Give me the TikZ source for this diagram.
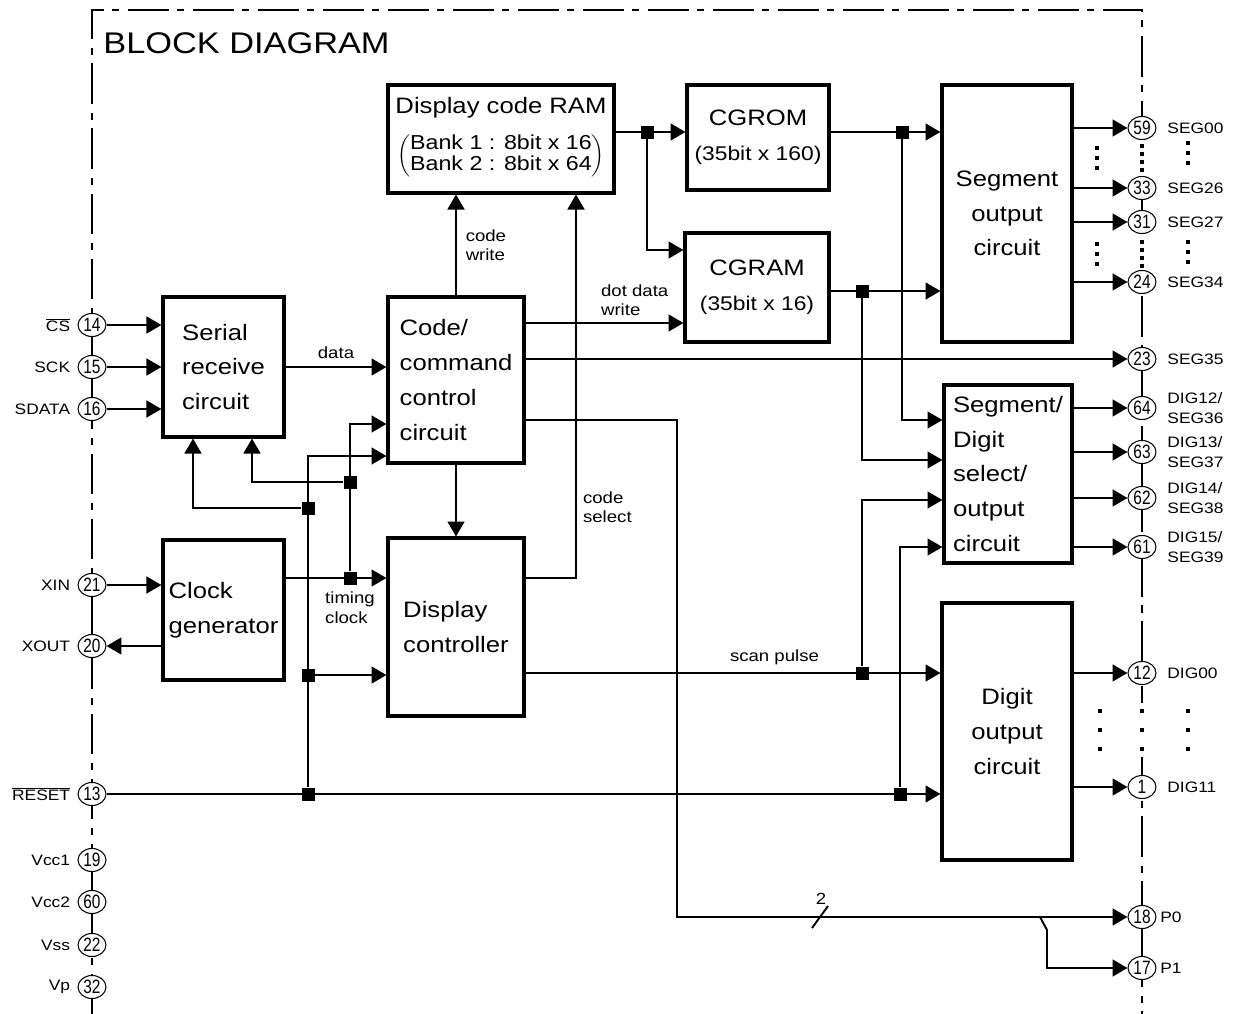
\documentclass[tikz,border=0pt]{standalone}
\usepackage{fontspec}
\setmainfont[FakeStretch=1.15]{Liberation Sans}
\newfontfamily\padfont[FakeStretch=0.8]{Liberation Sans}
\usetikzlibrary{arrows.meta,positioning,backgrounds,shapes.geometric}

\begin{document}
\begin{tikzpicture}[x=0.02cm, y=-0.02cm, >=Triangle, font=\fontsize{9}{11}\selectfont]
  \tikzset{
    sig/.style={-{Triangle[length=8.5pt, width=9.6pt]}, line width=1.1pt},
    wire/.style={line width=1.1pt},
    blk/.style={draw, line width=1.8pt, align=center, inner sep=2pt, font=\fontsize{12.7}{19.8}\selectfont},
    pad/.style={draw, ellipse, fill=white, line width=0.6pt, minimum width=0.56cm, minimum height=0.46cm, inner sep=0pt, font=\padfont\fontsize{11}{11}\selectfont},
    padtxt/.style={font=\fontsize{8.6}{11.3}\selectfont, inner sep=1pt, align=left},
    jn/.style={fill, minimum size=0.26cm, inner sep=0pt},
    note/.style={font=\fontsize{9.2}{11}\selectfont, align=left, inner sep=1pt},
    frame/.style={line width=1.1pt, dash pattern=on 23pt off 5pt on 4pt off 5pt}
  }
  \useasboundingbox (0,0) rectangle (1234,1014);

  \node[anchor=west, inner sep=0pt, font=\fontsize{17}{18}\selectfont] (title) at (103,43) {BLOCK DIAGRAM};

  % Blocks
  \node[blk, minimum width=4.52cm, minimum height=2.16cm] (ram) at (501,139) {};
  \node[inner sep=0pt, font=\fontsize{12.7}{14}\selectfont] (ramt) at (501,108) {Display code RAM};
  \node[inner sep=0pt, font=\fontsize{11.5}{12}\selectfont] (ramb) at (501,156)
    {$\left(\mbox{\begin{tabular}{@{}l@{}}Bank 1 : 8bit x 16\\Bank 2 : 8bit x 64\end{tabular}}\right)$};
  \node[blk, minimum width=2.84cm, minimum height=2.1cm] (cgrom) at (758,137.5)
    {CGROM\\{\fontsize{11.3}{12}\selectfont(35bit x 160)}};
  \node[blk, minimum width=2.88cm, minimum height=2.18cm] (cgram) at (757,287.5)
    {CGRAM\\{\fontsize{11.3}{12}\selectfont(35bit x 16)}};
  \node[blk, minimum width=2.6cm, minimum height=5.14cm] (segout) at (1007,213.5) {Segment\\output\\circuit};
  \node[blk, minimum width=2.42cm, minimum height=2.8cm, align=left] (serial) at (223.5,367) {Serial\\receive\\circuit};
  \node[blk, minimum width=2.72cm, minimum height=3.32cm, align=left] (ctrl) at (456,380) {Code/\\command\\control\\circuit};
  \node[blk, minimum width=2.42cm, minimum height=2.8cm, align=left] (clk) at (223.5,610) {Clock\\generator};
  \node[blk, minimum width=2.72cm, minimum height=3.56cm, align=left] (disp) at (456,627) {Display\\controller};
  \node[blk, minimum width=2.56cm, minimum height=3.56cm, align=left] (segdig) at (1008,474) {Segment/\\Digit\\select/\\output\\circuit};
  \node[blk, minimum width=2.6cm, minimum height=5.14cm] (digout) at (1007,731.5) {Digit\\output\\circuit};

  % Pins
  \foreach \n/\y/\t in {14/325/{$\overline{\mbox{CS}}$}, 15/367/SCK, 16/409/SDATA, 21/585/XIN, 20/646/XOUT,
      13/794/{$\overline{\mbox{RESET}}$}, 19/860/Vcc1, 60/902/Vcc2, 22/945/Vss, 32/987/Vp}
    {\node[pad] (p\n) at (92,\y) {\n};
     \node[padtxt, left=3pt of p\n] (l\n) {\t};}
  \foreach \n/\y/\t in {59/128/SEG00, 33/188/SEG26, 31/222/SEG27, 24/282/SEG34, 23/359/SEG35,
      64/408/{DIG12/\\SEG36}, 63/452/{DIG13/\\SEG37}, 62/498/{DIG14/\\SEG38}, 61/547/{DIG15/\\SEG39},
      12/673/DIG00, 1/787/DIG11}
    {\node[pad] (p\n) at (1142,\y) {\n};
     \node[padtxt, right=5pt of p\n] (l\n) {\t};}
  \foreach \n/\y/\t in {18/917/P0, 17/968/P1}
    {\node[pad] (p\n) at (1142,\y) {\n};
     \node[padtxt, right=1pt of p\n] (l\n) {\t};}

  % Junctions
  \node[jn] (j1) at (647,132) {};
  \node[jn] (j2) at (902,132) {};
  \node[jn] (j3) at (862,291) {};
  \node[jn] (j4) at (862,673) {};
  \node[jn] (j5) at (308,794) {};
  \node[jn] (j6) at (900,794) {};
  \node[jn] (j7) at (350,578) {};
  \node[jn] (j8) at (350,482) {};
  \node[jn] (j9) at (308,508) {};
  \node[jn] (j10) at (308,675) {};
  \coordinate (csel) at (576,578);
  \coordinate (pb) at (677,917);
  \coordinate (pf) at (1040,917);

  % Frame and pin lines
  \begin{scope}[on background layer]
    \draw[frame] (92,1014) -- (92,10) -- (1142,10) -- (1142,1014);
    \draw[wire] (p14) -- (p16);
    \draw[wire] (p21) -- (p20);
    \draw[wire] (p19) -- (p22);
    \draw[wire] (p33) -- (p31);
    \draw[wire] (p63) -- (p62);
    \draw[wire] (p18) -- (p17);
    \draw[white, line width=3pt] (p59) -- (p33);
    \draw[white, line width=3pt] (p31) -- (p24);
    \draw[white, line width=3pt] (1142,703) -- (1142,757);
  \end{scope}

  % Dots
  \foreach \x/\y in {1142/146, 1142/154, 1142/162, 1142/170, 1097/148, 1097/158, 1097/168, 1188/143, 1188/153, 1188/163,
      1142/242, 1142/250, 1142/258, 1142/266, 1097/244, 1097/254, 1097/264, 1188/242, 1188/252, 1188/262,
      1100/711, 1100/730, 1100/749, 1142/711, 1142/730, 1142/749, 1188/711, 1188/730, 1188/749}
    \fill (\x,\y) ++(-2,-2) rectangle ++(4,4);

  % Inputs and outputs
  \foreach \n in {14,15,16} \draw[sig] (p\n) -- (p\n -| serial.west);
  \draw[sig] (p21) -- (p21 -| clk.west);
  \draw[sig] (p20 -| clk.west) -- (p20);
  \draw[sig] (p23 -| ctrl.east) -- (p23);
  \foreach \n in {59,33,31,24} \draw[sig] (p\n -| segout.east) -- (p\n);
  \foreach \n in {64,63,62,61} \draw[sig] (p\n -| segdig.east) -- (p\n);
  \foreach \n in {12,1} \draw[sig] (p\n -| digout.east) -- (p\n);

  % Data paths
  \draw[sig] (serial.east) -- (serial.east -| ctrl.west) node[note, midway, above=3pt] (datal) {data};
  \draw[sig] (ctrl.north) -- (ctrl.north |- ram.south) node[note, midway, right=4pt] (cwl) {code\\write};
  \draw[sig] (csel -| disp.east) -- (csel) -- (csel |- ram.south);
  \node[note, anchor=west] (csl) at (581,507) {code\\select};
  \draw[sig] (ctrl.south) -- (disp.north);
  \draw[sig] (j1 -| ram.east) -- (j1 -| cgrom.west);
  \draw[sig] (j1) |- (cgram.west |- 0,250);
  \draw[sig] (ctrl.east |- 0,323) -- (cgram.west |- 0,323);
  \node[note, anchor=south west] (ddl) at (599,318) {dot data\\write};
  \draw[sig] (j2 -| cgrom.east) -- (j2 -| segout.west);
  \draw[sig] (j2) |- (segdig.west |- 0,420);
  \draw[sig] (j3 -| cgram.east) -- (j3 -| segout.west);
  \draw[sig] (j3) |- (segdig.west |- 0,460);
  \draw[sig] (j4 -| disp.east) -- (j4 -| digout.west) node[note, pos=0.6, above=3pt] (spl) {scan pulse};
  \draw[sig] (j4) |- (segdig.west |- 0,500);

  % Reset and clock
  \draw[sig] (p13) -- (p13 -| digout.west);
  \draw[sig] (j6) |- (segdig.west |- 0,547);
  \draw[sig] (j7 -| clk.east) -- (j7 -| disp.west);
  \node[note, below=3pt of j7] (tcl) {timing\\clock};
  \draw[sig] (j7) |- (ctrl.west |- 0,424);
  \draw[sig] (j8) -| (serial.south -| 252,0);
  \draw[sig] (j5) |- (ctrl.west |- 0,456);
  \draw[sig] (j9) -| (serial.south -| 193,0);
  \draw[sig] (j10) -- (j10 -| disp.west);

  % Ports
  \draw[sig] (ctrl.east |- 0,420) -| (pb) -- (p18);
  \draw[sig] (pf) -- ++(7,13) |- (p17);
  \draw[wire] (812,928) -- (828,906);
  \node[note] (busw) at (821,899) {2};

\end{tikzpicture}
\end{document}
